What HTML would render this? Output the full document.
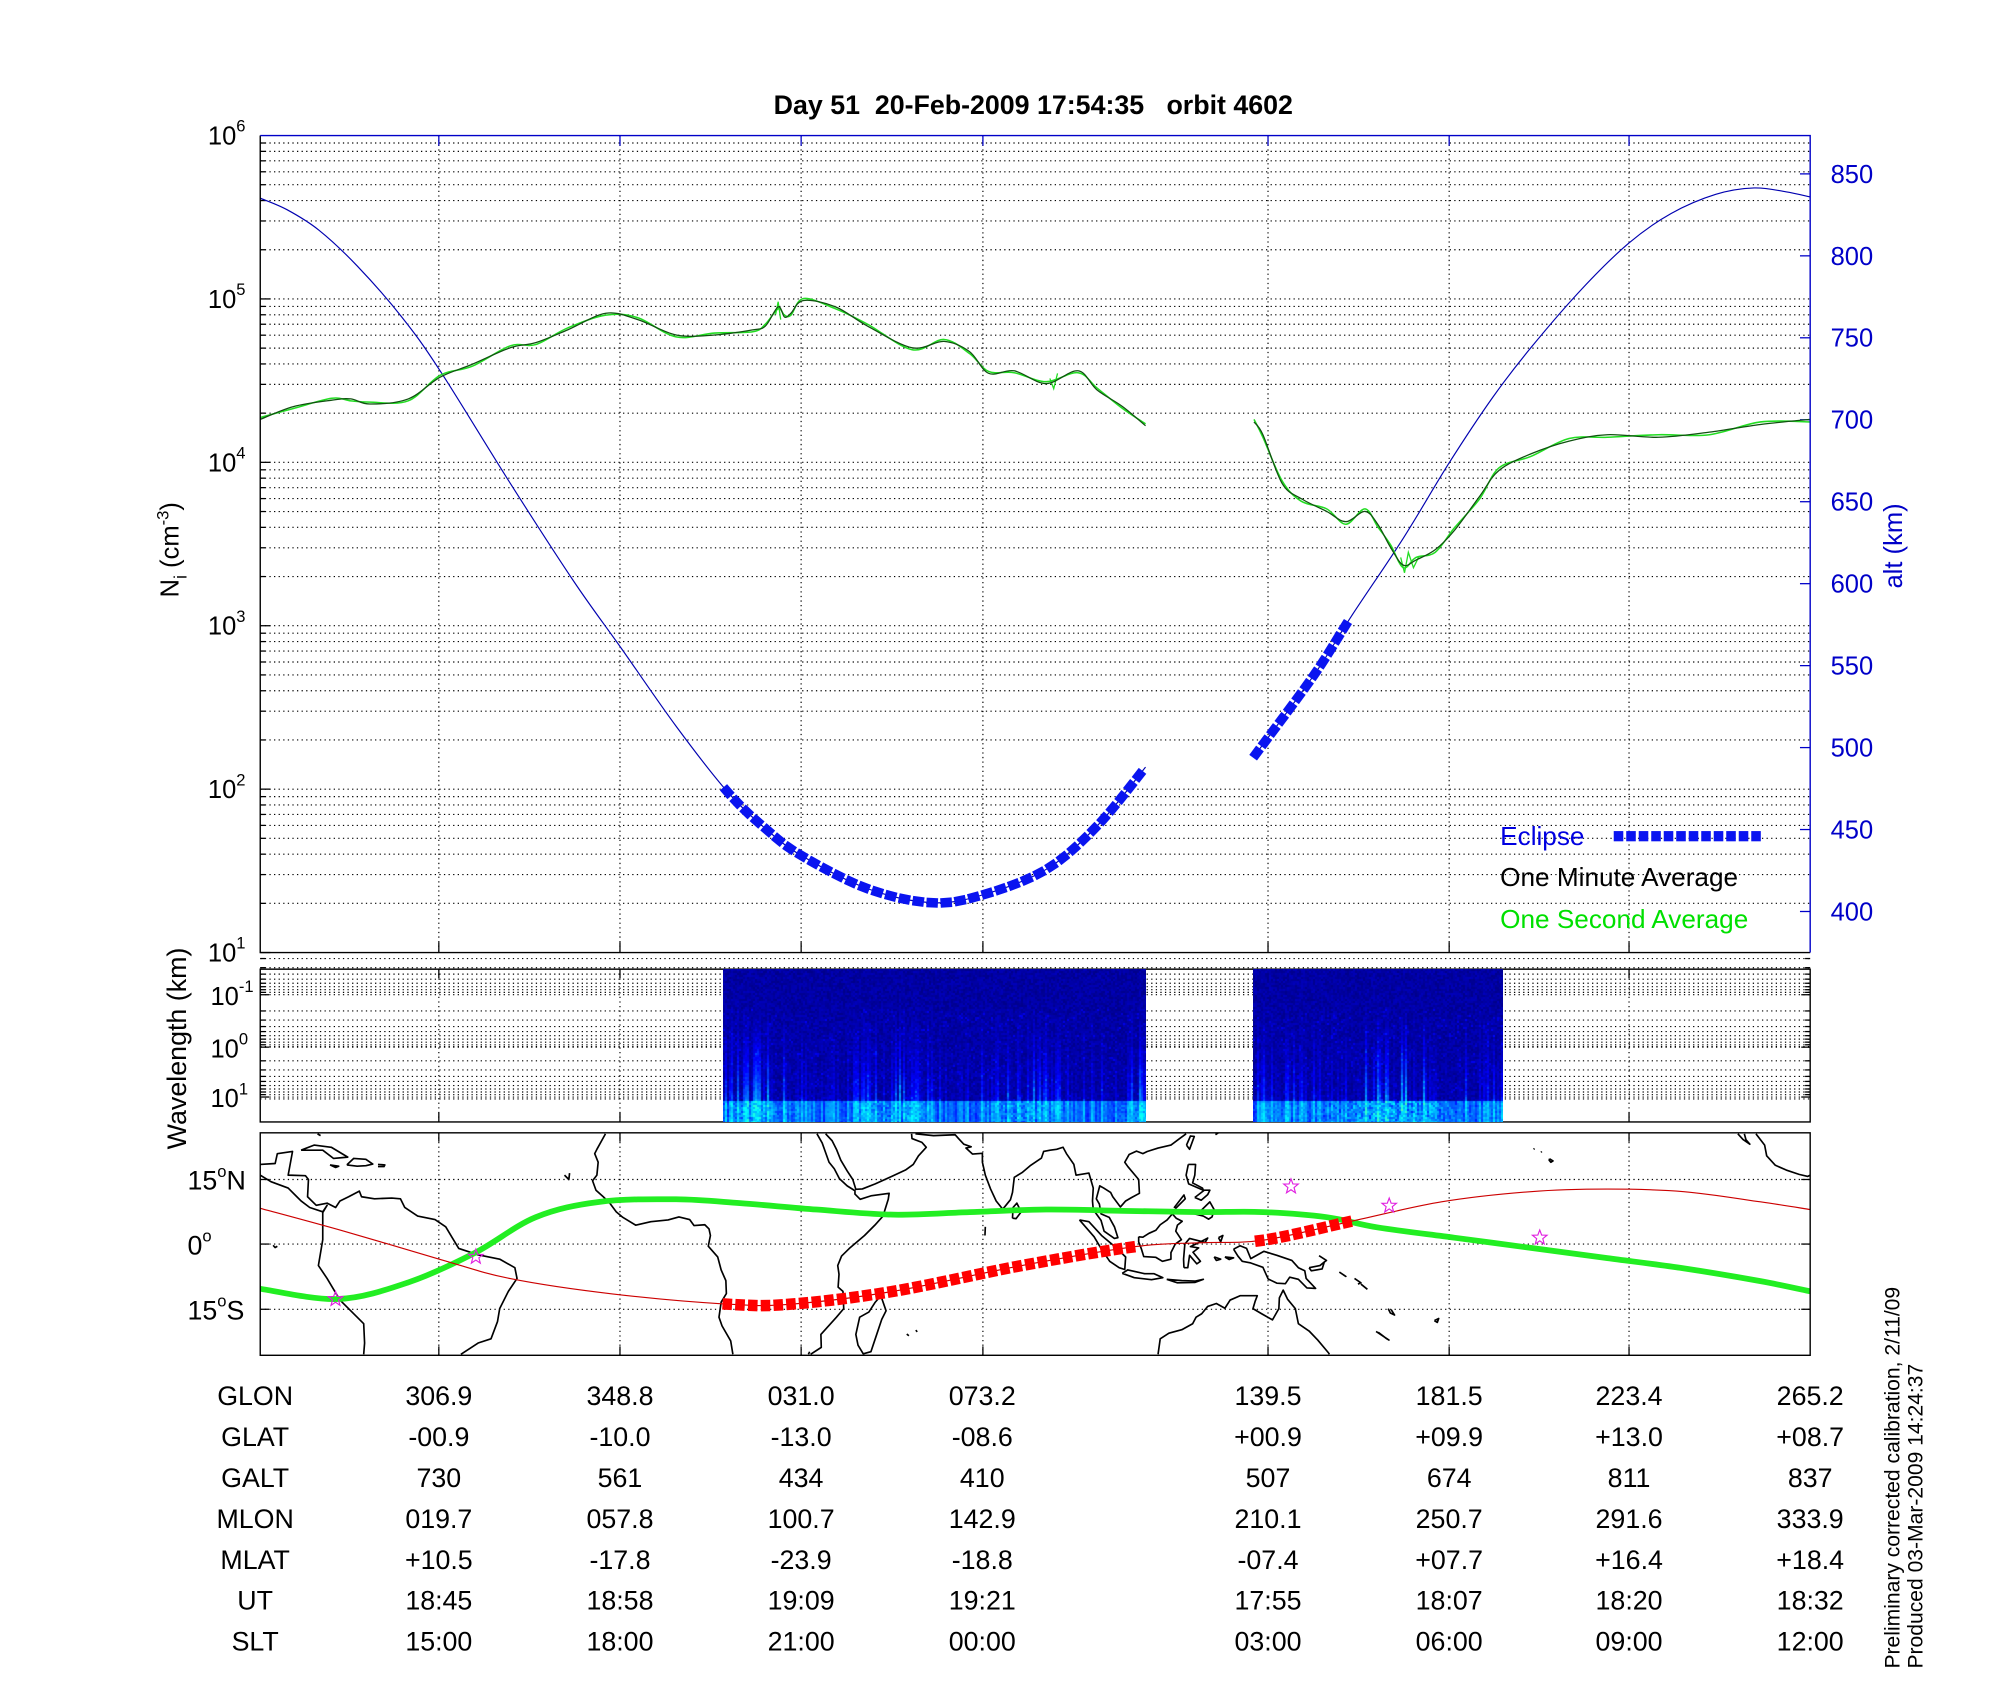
<!DOCTYPE html>
<html><head><meta charset="utf-8">
<style>
html,body{margin:0;padding:0;background:#fff;}
#wrap{position:relative;width:2000px;height:1700px;overflow:hidden;background:#fff;}
svg{position:absolute;left:0;top:0;}
canvas{position:absolute;}
text{font-family:"Liberation Sans",Arial,sans-serif;}
</style></head>
<body><div id="wrap">
<svg id="s" width="2000" height="1700" viewBox="0 0 1567.8 1329.6" preserveAspectRatio="none" xmlns="http://www.w3.org/2000/svg">
<g id="grid"></g>
<g id="curves"></g>
<g id="frames" fill="none" stroke-width="1.1">
  <path d="M204 106 V745 H1419" stroke="#000"/>
  <path d="M204 106 H1419 V745" stroke="#0000c8"/>
  <rect x="204" y="758" width="1215" height="119.5" stroke="#000"/>
  <rect x="204" y="886" width="1215" height="174" stroke="#000"/>
</g>
<text x="810" y="89" text-anchor="middle" font-size="21" font-weight="bold" xml:space="preserve">Day 51  20-Feb-2009 17:54:35   orbit 4602</text>
<g id="labels" font-size="20"></g>
<text transform="translate(140,430) rotate(-90)" text-anchor="middle" font-size="20">N<tspan font-size="14" dy="6">i</tspan><tspan dy="-6"> (cm</tspan><tspan font-size="13" dy="-8">-3</tspan><tspan dy="8">)</tspan></text>
<text transform="translate(1491,427) rotate(-90)" text-anchor="middle" font-size="20" fill="#0000c8">alt (km)</text>
<text transform="translate(146,820) rotate(-90)" text-anchor="middle" font-size="21">Wavelength (km)</text>
<text transform="translate(1489,1305) rotate(-90)" font-size="16.5">Preliminary corrected calibration, 2/11/09</text>
<text transform="translate(1507,1305) rotate(-90)" font-size="16.5">Produced 03-Mar-2009 14:24:37</text>
<text x="1176" y="661" font-size="20.5" fill="#0000e0">Eclipse</text>
<text x="1176" y="693" font-size="20.5" fill="#000">One Minute Average</text>
<text x="1176" y="726" font-size="20.5" fill="#00e000">One Second Average</text>
<g id="table" font-size="21" text-anchor="middle"></g>
</svg>
<canvas id="c1" width="423" height="153" style="left:723px;top:969px;width:423px;height:153px"></canvas>
<canvas id="c2" width="250" height="153" style="left:1253px;top:969px;width:250px;height:153px"></canvas>
</div>
<script>
var NS="http://www.w3.org/2000/svg";
function el(tag,attrs,parent,txt){var e=document.createElementNS(NS,tag);for(var k in attrs)e.setAttribute(k,attrs[k]);if(txt!==undefined)e.textContent=txt;(parent||document.getElementById('s')).appendChild(e);return e;}
var grid=document.getElementById('grid'),curves=document.getElementById('curves'),labels=document.getElementById('labels');
var XS=[344,486,628,770.5,994,1136,1277];
var dot={stroke:"#000","stroke-width":0.9,"stroke-dasharray":"1 2.6",fill:"none"};
function line(x1,y1,x2,y2,a,p){var o={x1:x1,y1:y1,x2:x2,y2:y2};for(var k in a)o[k]=a[k];return el('line',o,p||grid);}
var dec=127.8;
for(var d=0;d<5;d++){var yb=745-d*dec;
  for(var k=1;k<=9;k++){var y=yb-dec*Math.log10(k); if(k>1||d>0){line(204,y,1419,y,dot);}
    line(204,y,204+(k==1?8:4),y,{stroke:"#000","stroke-width":1});}
}
XS.forEach(function(x){line(x,106,x,745,dot);line(x,745,x,737,{stroke:"#000","stroke-width":1});line(x,106,x,114,{stroke:"#0000c8","stroke-width":1});});
for(var a=400;a<=850;a+=50){var y=712.9-(a-400)*1.282;line(1411,y,1419,y,{stroke:"#0000c8","stroke-width":1});el('text',{x:1435,y:y+7,fill:"#0000c8","font-size":20},labels,String(a));}
for(var d=0;d<=5;d++){var y=745-d*dec;var t=el('text',{x:163,y:y+7},labels);t.appendChild(document.createTextNode('10'));var s=el('tspan',{"font-size":13,dy:-10},t,String(d+1));}
var sm=[778,819,858],sd=40.5,sl=['-1','0','1'];
for(var i=0;i<3;i++){for(var k=2;k<=9;k++){var y=sm[i]-sd*Math.log10(10/k);line(204,y,1419,y,dot);line(204,y,208,y,{stroke:"#000"});line(1415,y,1419,y,{stroke:"#000"});}
 line(204,sm[i],1419,sm[i],dot);line(204,sm[i],211,sm[i],{stroke:"#000"});line(1412,sm[i],1419,sm[i],{stroke:"#000"});
 var y2=sm[i]+sd;if(y2<877){line(204,y2,1419,y2,dot);}
 var t=el('text',{x:165,y:sm[i]+8},labels,'10');el('tspan',{"font-size":13,dy:-10},t,sl[i]);}
XS.forEach(function(x){line(x,758,x,877.5,dot);line(x,877.5,x,870,{stroke:"#000"});line(x,758,x,765,{stroke:"#000"});});
[922.5,973,1024].forEach(function(y){line(204,y,1419,y,dot);line(204,y,211,y,{stroke:"#000"});line(1412,y,1419,y,{stroke:"#000"});});
XS.forEach(function(x){line(x,886,x,1060,dot);line(x,1060,x,1053,{stroke:"#000"});line(x,886,x,893,{stroke:"#000"});});
function latlab(y,a,b){var t=el('text',{x:147,y:y+8,"font-size":21},labels,a);el('tspan',{"font-size":13,dy:-10},t,'o');el('tspan',{dy:10},t,b);}
latlab(922.5,'15','N');latlab(973,'0','');latlab(1024,'15','S');
var rows=[['GLON','306.9','348.8','031.0','073.2','139.5','181.5','223.4','265.2'],
['GLAT','-00.9','-10.0','-13.0','-08.6','+00.9','+09.9','+13.0','+08.7'],
['GALT','730','561','434','410','507','674','811','837'],
['MLON','019.7','057.8','100.7','142.9','210.1','250.7','291.6','333.9'],
['MLAT','+10.5','-17.8','-23.9','-18.8','-07.4','+07.7','+16.4','+18.4'],
['UT','18:45','18:58','19:09','19:21','17:55','18:07','18:20','18:32'],
['SLT','15:00','18:00','21:00','00:00','03:00','06:00','09:00','12:00']];
var cx=[200,344,486,628,770,994,1136,1277,1419],tb=document.getElementById('table');
rows.forEach(function(r,i){var y=1099+i*32;r.forEach(function(v,j){el('text',{x:cx[j],y:y},tb,v);});});
function cr(p){var d='M'+p[0][0]+' '+p[0][1];for(var i=0;i<p.length-1;i++){var p0=p[i-1]||p[i],p1=p[i],p2=p[i+1],p3=p[i+2]||p2;
 d+=' C'+(p1[0]+(p2[0]-p0[0])/6)+' '+(p1[1]+(p2[1]-p0[1])/6)+' '+(p2[0]-(p3[0]-p1[0])/6)+' '+(p2[1]-(p3[1]-p1[1])/6)+' '+p2[0]+' '+p2[1];}return d;}
function markers(path,x0,x1,sp,w,h,col,par){var L=path.getTotalLength(),last=-1e9;for(var l=0;l<=L;l+=0.5){var p=path.getPointAtLength(l);if(p.x<x0||p.x>x1)continue;if(l-last>=sp){last=l;var q=path.getPointAtLength(Math.min(L,l+1)),r=path.getPointAtLength(Math.max(0,l-1));var ang=Math.atan2(q.y-r.y,q.x-r.x)*180/Math.PI;
 el('rect',{x:-w/2,y:-h/2,width:w,height:h,fill:col,transform:'translate('+p.x+','+p.y+') rotate('+ang+')'},par);}}}
var alt1=[[204,155],[225,164],[250,180],[280,208],[315,248],[345,290],[400,378],[450,455],[487,507],[530,568],[570,619],[600,648],[628,669],[680,695],[730,706],[770,700],[820,680],[860,646],[898,600]];
var alt2=[[985,589],[1030,528],[1060,481],[1100,421],[1136,362],[1170,311],[1200,272],[1240,226],[1277,190],[1310,167],[1345,152],[1375,147],[1400,150],[1419,154]];
var pa1=el('path',{d:cr(alt1),fill:"none",stroke:"#0000b0","stroke-width":0.9},curves);
var pa2=el('path',{d:cr(alt2),fill:"none",stroke:"#0000b0","stroke-width":0.9},curves);
var g1=[[204,328],[230,318],[260,313],[275,312],[290,316],[320,312],[345,295],[370,285],[400,272],[420,268],[445,258],[475,245],[500,250],[530,262],[560,262],[590,258],[600,255],[610,240],[615,248],[620,245],[630,235],[655,240],[680,255],[715,272],[740,267],[760,275],[775,292],[795,290],[820,300],[845,290],[860,305],[880,318],[898,333]];
var g2=[[983,330],[990,340],[1005,378],[1020,390],[1040,400],[1055,408],[1070,400],[1080,410],[1090,428],[1100,442],[1110,438],[1125,430],[1140,415],[1160,388],[1175,368],[1200,355],[1230,345],[1260,340],[1300,342],[1340,338],[1380,332],[1419,328]];
function jit(p,a){return p.map(function(q,i){return [q[0],q[1]+(i%2?a:-a)];});}
el('path',{d:cr(jit(g1,1.5)),fill:"none",stroke:"#22dd22","stroke-width":1.2},curves);
el('path',{d:cr(jit(g2,2)),fill:"none",stroke:"#22dd22","stroke-width":1.2},curves);
el('path',{d:"M608 246 L610 236 L612 250 M823 296 L826 304 L829 292 M1098 436 L1101 448 L1104 432 L1108 444 L1112 436",fill:"none",stroke:"#22dd22","stroke-width":1},curves);
el('path',{d:cr(g1),fill:"none",stroke:"#105010","stroke-width":1},curves);
el('path',{d:cr(g2),fill:"none",stroke:"#105010","stroke-width":1},curves);
markers(pa1,570,898,10.6,9,7.5,"#0a14f0",curves);
markers(pa2,985,1060,10.6,9,7.5,"#0a14f0",curves);
for(var i=0;i<12;i++)el('rect',{x:1265+i*9.8,y:650,width:7.5,height:8,fill:"#0a14f0"},curves);
function P(lon,lat){var L=lon;while(L<-94.6)L+=360;while(L>265.5)L-=360;return [344+(L+53.1)/0.2955,973-lat*50.5/15];}
var coasts=[
[[-94.5,18.5],[-91,18.7],[-90.5,21],[-87,21.5],[-88,16],[-84,15.9],[-83.3,15],[-83.5,11],[-81.5,9],[-79,9.5],[-77,8.5],[-76,10],[-74,11],[-71.5,12.3],[-71,11],[-68,10.5],[-64,10.7],[-62,10.5],[-61,8.5],[-58,6.5],[-54,5.7],[-51.5,4],[-50,1.5],[-48.5,-1],[-44,-2.5],[-39,-3.5],[-35.5,-5.5],[-35,-8],[-37,-11],[-39,-15],[-39.5,-18],[-41,-22],[-44,-23],[-48,-25.6]],
[[-94.5,16],[-92,14.5],[-88,13],[-86,11],[-85,10],[-83,8.5],[-80,7.5],[-79,9],[-80,7.3],[-80,1],[-80.5,-2],[-81,-5],[-79,-8],[-76,-13],[-72,-17],[-70.5,-18.5],[-70.3,-23],[-70.5,-25.6]],
[[-85,21.8],[-82,23],[-78,22.5],[-74.2,20.2],[-77.5,19.9],[-80,21.8],[-85,21.8]],
[[-74.4,18.4],[-72.8,19.9],[-70,19.7],[-68.4,18.6],[-70,18.2],[-72,18.1],[-74.4,18.4]],
[[-78.3,18.4],[-76.3,18.1],[-77,17.8],[-78.3,18.4]],[[-67.2,18.5],[-65.6,18.4],[-65.8,18],[-67.2,18]],
[[-14.5,25.6],[-16.5,22],[-17,21],[-16.2,19],[-16.5,16],[-17.5,14.7],[-16.7,12.5],[-15,11],[-13.5,9.5],[-12,7.5],[-10.5,6.2],[-7.5,4.4],[-4,5.2],[0,5.6],[2.5,6.3],[5,5.7],[6,4.3],[8.5,4.5],[9.5,3.5],[9.8,2],[9.3,-0.5],[11.5,-3],[12.3,-6],[13.4,-8.5],[13.5,-11.5],[12.3,-13.5],[11.8,-17],[12.5,-19],[14.5,-22.5],[15,-25.6]],
[[34.5,25.6],[35.7,23.5],[37.3,19],[38.5,17.5],[39.7,15.2],[41.5,13.5],[43.3,12.4],[43.3,11.6],[44.5,10.4],[47,11.2],[51.2,11.8],[51,10.4],[49.8,6.5],[47.9,4.4],[45.5,2],[42,-1],[40.2,-2.8],[39.3,-5],[39.6,-7],[39.4,-10],[40.5,-11],[40.7,-15],[39,-17],[35.4,-21],[35.5,-24],[33,-25.6]],
[[49.3,-12],[50.5,-15.5],[49.5,-17.5],[48,-22],[47,-25],[45.2,-25.5],[44,-23.5],[43.5,-21],[44.4,-17],[46.5,-15.8],[48,-13.5],[49.3,-12]],
[[36.5,25.6],[38,24],[39,22],[40,19.5],[41.5,17],[42.8,15],[43.5,12.7],[45,12.8],[48,14],[52,15.8],[55,17.2],[56.8,18.5],[58,20.5],[59.8,22.5],[58.8,23.6],[56.5,24.5],[56.4,25.6]],
[[57.3,25.6],[61.5,25.2],[66.5,25.4],[67.3,24.5],[68.5,23.2],[70.2,22.6],[69,22.3],[70.5,20.9],[72.8,21.1],[72.8,19],[73.5,16],[74.7,12.8],[76,10],[77.5,8.1],[78.2,8.9],[79.3,10.3],[79.8,12],[80.2,15.5],[82,16.6],[84,18.3],[86.5,20],[87,21.5],[88.5,21.8],[90,22],[91.5,22.5],[92.3,21],[94,18.5],[94.5,16],[97.5,16.5],[98.5,13],[98.3,10],[98.5,8],[100.3,5.5],[101,3],[103.4,1.3],[104.2,1.5],[103.4,4],[102.2,6.2],[100.3,7],[99.9,9.3],[99.2,10.5],[100,13.5],[100.9,13],[102.5,12],[103,11],[104.8,8.6],[106,10],[107.4,10.8],[109.2,11.8],[109,15],[106.5,18],[105.8,19],[106.8,20.8],[108.5,21.6],[110,21],[111,21.5],[113.5,22.3],[116.5,23],[118.5,24.5],[120,25.6]],
[[79.8,6],[80.6,5.9],[81.8,7.5],[80.8,9.5],[79.9,8.5],[79.8,6]],
[[95.3,5.6],[97.5,5.2],[100.4,2],[104,-1],[106,-3],[105.8,-5.9],[104.5,-5.5],[102.3,-4],[100.3,-1],[98.7,1.7],[95.3,5.6]],
[[105.2,-6.8],[106.5,-6],[110.4,-6.9],[112.6,-6.9],[114.6,-7.8],[112,-8.3],[108,-7.8],[105.2,-6.8]],
[[115.5,-8.2],[119,-8.5],[122,-8.6],[124,-8.2],[122,-8.9],[118,-9],[115.5,-8.2]],
[[109,1.7],[110,1.6],[111.4,2.5],[113,3.2],[114,4.5],[115.6,5.6],[116.8,7],[117.7,6],[119.1,5.3],[118,4.4],[117.6,3],[118.9,1],[117.5,0],[116.5,-2],[116.5,-3.5],[114.5,-4],[113,-3.1],[111.6,-3],[110.2,-2.9],[109.6,-1],[109,0.5],[109,1.7]],
[[119.5,-5.5],[120.4,-5.5],[120.8,-2.6],[122.5,-4.6],[123.3,-4],[121.6,-1.9],[122.9,-0.9],[121,-0.6],[123.3,0.5],[125,1.4],[124.4,0.4],[120.8,1.3],[119.7,0],[119.4,-3.5],[119.5,-5.5]],
[[120.5,18.5],[122.2,18.5],[122,16],[121.5,14.2],[123.8,13],[124,12.5],[120.6,14],[120,16],[120.5,18.5]],
[[122,7],[123.5,7.8],[125.5,9.8],[126.5,8],[126,6.3],[125.2,5.8],[124,6.5],[122,7]],
[[122,10.8],[123.5,10.2],[125,11.5],[125.5,12.5],[124.2,12.5],[122,10.8]],
[[117.2,8.4],[119.5,11.4],[119.8,10.5],[117.5,8.2]],
[[120.1,23],[121,25.1],[121.9,25],[120.8,22],[120.1,23]],
[[127.5,1.5],[128.5,2],[128,0.5],[127.5,1.5]],[[126.5,-3],[128,-3.5],[127,-3.8],[126.5,-3]],[[129,-3],[131,-3.2],[130,-3.6],[129,-3]],
[[131,-1.2],[132.5,-0.4],[134,-1],[135,-3.4],[138,-1.7],[141,-2.6],[144.5,-3.8],[146,-5.5],[147.5,-6.2],[147.8,-8],[150,-10.3],[148,-10.2],[146,-8.2],[144,-7.7],[143,-9.2],[141,-9.1],[139,-8.1],[137.8,-5.4],[135,-4.4],[133,-4],[132,-2.8],[131,-1.2]],
[[113.5,-25.6],[114,-22],[116,-20.7],[119,-19.9],[121.5,-18.5],[122.3,-17],[123.6,-16.2],[125,-14.5],[127,-13.8],[129,-14.9],[130.2,-13],[132.5,-12],[134.5,-12],[136.5,-12],[136,-13.3],[135.5,-15],[137.5,-16.2],[140,-17.6],[141.5,-15],[141.6,-12.5],[142.5,-10.7],[143.5,-12.8],[145.3,-15],[146,-18.5],[148.5,-20.2],[150.5,-22.3],[153,-25.3],[153.2,-25.6]],
[[148.5,-5.5],[151,-5],[152,-4.2],[151.5,-5.8],[149,-6.2],[148.5,-5.5]],[[150.8,-2.7],[152.5,-3.8],[152,-4.2]],
[[155.5,-6.5],[157,-7.5],[156.5,-7.2]],[[159,-8],[160.5,-9],[159.8,-9.3]],[[160.5,-9.3],[162,-10.5]],
[[166.8,-15],[167.3,-16],[168.3,-16.5],[167.5,-15.2]],[[164,-20.3],[167,-22.3],[166.5,-22],[164.5,-20.5]],
[[177.5,-17.8],[178.5,-17.3],[178.2,-18.2],[177.5,-17.8]],[[-155.8,19.8],[-155,19.3],[-155.5,19],[-155.9,19.5],[-155.8,19.8]],[[-157.8,21.3],[-157.6,21.5]],[[-159.5,22],[-159.3,22.2]],
[[-108,25.6],[-106,23],[-105.5,20.5],[-103.5,18.3],[-101,17.2],[-98,16.2],[-96,15.7],[-95.4,16]],
[[-112.2,25.6],[-111,24.3],[-109.4,23.2],[-110.3,24.2],[-110.7,25.6]],
[[-91.5,-0.3],[-91,-0.8],[-90.5,-0.5]],[[-24,16],[-23,15],[-22.8,16.5]],[[73.5,4],[73.4,2]],[[55.3,-20.9],[55.8,-21.3]],[[57.4,-20],[57.7,-20.4]],
[[128,26.5],[127.7,26],[126.8,25.4]],[[32.5,-25.6],[32.8,-25]],[[-80.5,25.2],[-81.2,25.6]]
];
var cd='';coasts.forEach(function(c){var pts=c.map(function(q){return P(q[0],q[1]);});var prev=null;
 pts.forEach(function(p,i){ if(i==0||Math.abs(p[0]-prev[0])>300) cd+='M'+p[0].toFixed(1)+' '+p[1].toFixed(1); else cd+='L'+p[0].toFixed(1)+' '+p[1].toFixed(1); prev=p;});});
var mclip=el('clipPath',{id:'mc'});el('rect',{x:204,y:886,width:1215,height:174},mclip);
var mg=el('g',{"clip-path":"url(#mc)"},curves);
el('path',{d:cd,fill:"none",stroke:"#000","stroke-width":1.3,"stroke-linejoin":"round"},mg);
var gr=[[204,1008],[265,1016],[320,1003],[372,980],[420,952],[470,940],[530,938],[580,941],[640,946],[700,950],[760,948],[820,946],[880,947],[940,948],[990,948],[1040,952],[1080,960],[1140,968],[1200,976],[1260,984],[1320,992],[1380,1002],[1419,1010]];
el('path',{d:cr(gr),fill:"none",stroke:"#22ee22","stroke-width":4.5},mg);
var rd=[[204,945],[270,963],[345,985],[400,1000],[480,1012],[570,1020],[620,1020],[700,1010],[800,990],[890,975],[940,972],[990,970],[1060,955],[1130,940],[1200,932],[1260,930],[1320,932],[1380,940],[1419,946]];
var pr=el('path',{d:cr(rd),fill:"none",stroke:"#cc0000","stroke-width":0.9},mg);
markers(pr,570,890,9.6,7.5,9,"#ff0000",mg);
markers(pr,987,1058,9.6,7.5,9,"#ff0000",mg);
function star(x,y,r){var d='';for(var i=0;i<10;i++){var a=-Math.PI/2+i*Math.PI/5,rr=i%2?r*0.42:r;d+=(i?'L':'M')+(x+rr*Math.cos(a)).toFixed(1)+' '+(y+rr*Math.sin(a)).toFixed(1);}el('path',{d:d+'Z',fill:"none",stroke:"#e020e0","stroke-width":0.9},mg);}
[[263,1016],[373,983],[1012,928],[1089,943],[1207,968]].forEach(function(s){star(s[0],s[1],6);});
function seed(s){return function(){s=(s*16807)%2147483647;return (s-1)/2147483646;};}
function jet(v){v=Math.max(0,Math.min(1,v));var r=Math.max(0,Math.min(1,1.5-Math.abs(4*v-3))),g=Math.max(0,Math.min(1,1.5-Math.abs(4*v-2))),b=Math.max(0,Math.min(1,1.5-Math.abs(4*v-1)));return [r*255|0,g*255|0,b*255|0];}
function spec(id,sd,boost){var c=document.getElementById(id),ctx=c.getContext('2d'),W=c.width,H=c.height,R=seed(sd);
 var img=ctx.createImageData(W,H);var cols=[];for(var x=0;x<W;x++){cols.push(R());}
 for(var x=0;x<W;x+=2){var cs=Math.pow(cols[x],3)*boost(x/W);
  for(var y=0;y<H;y+=2){var f=y/H;var v=0.01+0.05*R()+cs*Math.pow(f,2.5)*0.45+(f>0.25&&R()<0.06?0.05:0);
   if(f>0.86)v=0.14+0.16*cols[x]+0.14*boost(x/W)*R();
   var col=jet(v);for(var dx=0;dx<2;dx++)for(var dy=0;dy<2;dy++){if(x+dx>=W||y+dy>=H)continue;var i=((y+dy)*W+x+dx)*4;img.data[i]=col[0];img.data[i+1]=col[1];img.data[i+2]=col[2];img.data[i+3]=255;}}}
 ctx.putImageData(img,0,0);}
spec('c1',12345,function(u){return 0.6+0.3*Math.sin(u*20);});
spec('c2',777,function(u){return 0.5+0.8*Math.exp(-Math.pow((u-0.55)/0.2,2));});
</script>
</body></html>
